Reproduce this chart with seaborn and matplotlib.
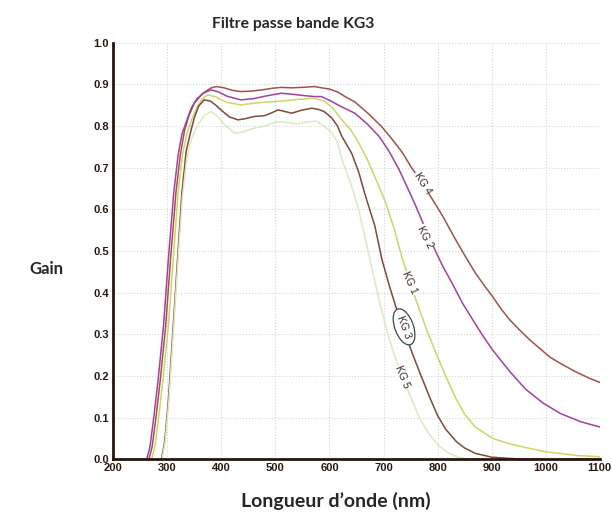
import numpy as np
import pandas as pd
import matplotlib
matplotlib.use('Agg')
import matplotlib.pyplot as plt
import seaborn as sns

# longueurs d'onde (nm) et gains
kg4_wl = [266, 272, 279, 287, 297, 306, 316, 324, 332, 340, 350, 365, 380, 390, 405, 420, 436, 455, 475, 495,
          511, 530, 550, 572, 585, 600, 615, 630, 647, 672, 697, 715, 734, 752, 772, 790, 809, 830, 850, 870,
          886, 902, 918, 934, 952, 971, 990, 1008, 1030, 1057, 1080, 1103]
kg4_g = [0.0, 0.03, 0.10, 0.19, 0.32, 0.48, 0.64, 0.73, 0.79, 0.825, 0.855, 0.878, 0.891, 0.895, 0.892, 0.886,
         0.883, 0.884, 0.887, 0.891, 0.893, 0.892, 0.893, 0.895, 0.892, 0.889, 0.882, 0.870, 0.858, 0.830,
         0.798, 0.770, 0.738, 0.700, 0.663, 0.625, 0.585, 0.535, 0.490, 0.447, 0.418, 0.390, 0.360, 0.334,
         0.310, 0.286, 0.265, 0.245, 0.228, 0.209, 0.195, 0.183]

kg2_wl = [262, 268, 275, 283, 293, 302, 312, 320, 327, 335, 345, 355, 368, 381, 395, 410, 436, 460, 485, 511,
          535, 555, 572, 585, 600, 620, 647, 670, 692, 710, 729, 745, 759, 777, 796, 809, 828, 846, 865, 883,
          902, 934, 963, 995, 1027, 1065, 1107]
kg2_g = [0.0, 0.03, 0.10, 0.19, 0.32, 0.48, 0.64, 0.73, 0.78, 0.81, 0.845, 0.866, 0.880, 0.887, 0.882, 0.872,
         0.863, 0.866, 0.873, 0.879, 0.876, 0.873, 0.871, 0.871, 0.862, 0.848, 0.831, 0.805, 0.775, 0.740,
         0.695, 0.650, 0.610, 0.555, 0.500, 0.465, 0.420, 0.375, 0.335, 0.298, 0.262, 0.210, 0.168, 0.135,
         0.110, 0.090, 0.075]

kg1_wl = [271, 277, 284, 292, 302, 311, 320, 328, 336, 345, 355, 365, 375, 390, 410, 436, 460, 485, 511, 540,
          572, 590, 605, 623, 640, 654, 670, 685, 703, 720, 734, 749, 762, 780, 796, 815, 833, 850, 870, 902,
          930, 963, 1000, 1057, 1100]
kg1_g = [0.0, 0.03, 0.10, 0.19, 0.32, 0.48, 0.64, 0.73, 0.78, 0.815, 0.845, 0.866, 0.875, 0.870, 0.857, 0.851,
         0.855, 0.858, 0.860, 0.864, 0.867, 0.860, 0.845, 0.815, 0.790, 0.760, 0.720, 0.675, 0.620, 0.552,
         0.485, 0.425, 0.375, 0.310, 0.258, 0.200, 0.148, 0.108, 0.077, 0.050, 0.038, 0.028, 0.018, 0.009, 0.006]

kg3_wl = [289, 295, 302, 311, 319, 327, 335, 343, 350, 358, 368, 380, 390, 400, 415, 431, 445, 460, 480, 495,
          505, 518, 530, 548, 567, 580, 590, 604, 615, 623, 641, 654, 666, 684, 697, 710, 723, 738, 753, 768,
          785, 800, 815, 835, 850, 870, 900, 933, 960, 1100]
kg3_g = [0.0, 0.04, 0.14, 0.32, 0.48, 0.64, 0.74, 0.785, 0.82, 0.848, 0.863, 0.860, 0.850, 0.838, 0.822, 0.815,
         0.818, 0.823, 0.825, 0.833, 0.839, 0.835, 0.831, 0.838, 0.843, 0.840, 0.835, 0.820, 0.800, 0.775,
         0.735, 0.690, 0.635, 0.560, 0.480, 0.420, 0.365, 0.310, 0.255, 0.205, 0.150, 0.105, 0.072, 0.042,
         0.027, 0.014, 0.005, 0.002, 0.0, 0.0]

kg5_wl = [290, 296, 303, 312, 320, 328, 336, 345, 355, 368, 381, 392, 405, 424, 440, 460, 480, 500, 515, 540,
          560, 575, 590, 604, 615, 623, 640, 654, 668, 680, 692, 706, 720, 734, 750, 766, 782, 800, 820, 840, 860]
kg5_g = [0.0, 0.04, 0.14, 0.32, 0.48, 0.63, 0.72, 0.77, 0.80, 0.825, 0.835, 0.825, 0.805, 0.783, 0.786, 0.795,
         0.800, 0.810, 0.810, 0.805, 0.810, 0.812, 0.800, 0.785, 0.760, 0.720, 0.660, 0.600, 0.520, 0.450,
         0.380, 0.310, 0.250, 0.200, 0.150, 0.100, 0.065, 0.035, 0.015, 0.004, 0.0]

filtres = ['KG 4', 'KG 2', 'KG 1', 'KG 3', 'KG 5']
couleurs = ['#a2514d', '#a440a0', '#c9d766', '#7d4a3c', '#dfe8c0']

x_ticks = [200, 300, 400, 500, 600, 700, 800, 900, 1000, 1100]
y_ticks = [0.0, 0.1, 0.2, 0.3, 0.4, 0.5, 0.6, 0.7, 0.8, 0.9, 1.0]

# position et inclinaison des étiquettes sur les courbes
lab_x = [772, 777, 749, 738, 734]
lab_y = [0.663, 0.534, 0.423, 0.318, 0.197]
lab_rot = [-58, -63, -66, -70, -68]

frames = []
for nom, wl, g in zip(filtres, [kg4_wl, kg2_wl, kg1_wl, kg3_wl, kg5_wl],
                      [kg4_g, kg2_g, kg1_g, kg3_g, kg5_g]):
    frames.append(pd.DataFrame({'wl': wl, 'gain': g, 'filtre': nom}))
df = pd.concat(frames, ignore_index=True)

sns.set_style('white')
plt.rcParams['font.family'] = ['Liberation Sans', 'DejaVu Sans']

fig = plt.figure(figsize=(6.12, 5.16), dpi=100)
ax = fig.add_axes([0.185, 0.110, 0.795, 0.807])

sns.lineplot(data=df, x='wl', y='gain', hue='filtre', hue_order=filtres,
             palette=couleurs, sort=False, linewidth=1.1, legend=False, ax=ax)

ax.set_xlim(200, 1100)
ax.set_ylim(0, 1.0)
ax.set_xticks(x_ticks)
ax.set_yticks(y_ticks)
ax.set_xticklabels([str(v) for v in x_ticks], fontweight='bold', fontsize=8)
ax.set_yticklabels([f'{v:.1f}' for v in y_ticks], fontweight='bold', fontsize=8)
ax.tick_params(length=0, pad=3, colors='#2a1a14')
ax.grid(True, linestyle=':', color='#d4d4d4', linewidth=0.8)
ax.set_xlabel('')
ax.set_ylabel('')
for s in ['top', 'right']:
    ax.spines[s].set_visible(False)
for s in ['left', 'bottom']:
    ax.spines[s].set_color('#2a140e')
    ax.spines[s].set_linewidth(2)

for i, nom in enumerate(filtres):
    bbox = dict(boxstyle='square,pad=0.05', fc='white', ec='none')
    if nom == 'KG 3':
        bbox = dict(boxstyle='ellipse,pad=0.15', fc='white', ec='#3c4650', lw=0.9)
    ax.text(lab_x[i], lab_y[i], nom, rotation=lab_rot[i], fontsize=7.5, color='#3a2a24',
            ha='center', va='center', bbox=bbox)

fig.text(0.479, 0.953, 'Filtre passe bande KG3', family='Lato', fontweight='bold',
         fontsize=11.3, ha='center', va='center')
fig.text(0.076, 0.479, 'Gain', family='Lato', fontweight='bold', fontsize=12,
         ha='center', va='center')
fig.text(0.549, 0.029, 'Longueur d\u2019onde (nm)', family='Lato', fontweight='bold',
         fontsize=14, ha='center', va='center')

fig.savefig('out.png', dpi=100)
